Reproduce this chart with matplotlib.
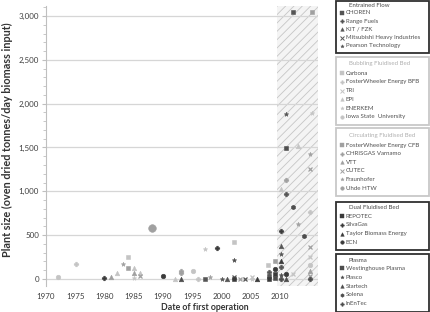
import matplotlib
matplotlib.use("Agg")
import matplotlib.pyplot as plt
from matplotlib.patches import Rectangle
from matplotlib.lines import Line2D
from matplotlib.ticker import MultipleLocator, FuncFormatter

plt.rcParams['font.family'] = ['Lato', 'DejaVu Sans']
plt.rcParams['hatch.linewidth'] = 0.6

# ---------------- data ----------------
ef_names = ['CHOREN', 'Range Fuels', 'KIT / FZK', 'Mitsubishi Heavy Industries', 'Pearson Technology']
ef_series = [0, 0, 0, 1, 1, 1, 2, 2, 3, 3, 4, 4, 4]
ef_year = [1997.1, 2008.1, 2012.2, 2008.1, 2010.2, 2011.1, 2001.0, 2010.1, 2002.1, 2004.0, 2000.1, 2010.2, 2011.1]
ef_size = [0, 38, 3040, 76, 140, 970, 0, 380, 26, 0, 0, 282, 1880]

bfb_names = ['Carbona', 'FosterWheeler Energy BFB', 'TRI', 'EPI', 'ENERKEM', 'Iowa State  University']
bfb_series = [0, 0, 0, 1, 1, 1, 2, 2, 2, 3, 3, 3, 3, 3, 3, 4, 4, 4, 4, 5, 5, 5]
bfb_year = [1984.1, 2002.1, 2008.0, 1975.1, 1996.0, 2015.2, 2005.2, 2012.3, 2015.2,
            1982.1, 1985.1, 1986.0, 1992.0, 2010.2, 2013.1,
            1985.1, 1997.1, 2005.2, 2015.4, 1972.1, 1995.1, 2015.2]
bfb_size = [255, 419, 160, 175, 3, 768, 26, 53, 255,
            72, 129, 72, 3, 1027, 1518,
            15, 339, 0, 1898, 23, 91, 160]

cfb_names = ['FosterWheeler Energy CFB', 'CHRISGAS Varnamo', 'VTT', 'CUTEC', 'Fraunhofer', 'Uhde HTW']
cfb_series = [0, 0, 0, 1, 1, 1, 2, 2, 2, 3, 3, 3, 3, 4, 4, 4, 4, 5]
cfb_year = [1984.1, 2009.2, 2015.4, 1993.1, 1993.1, 2011.1, 1981.1, 1985.1, 2015.2,
            1986.0, 2003.2, 2015.2, 2015.2, 1983.1, 1998.0, 2013.1, 2015.2,
            1988.2]
cfb_size = [129, 205, 3040, 91, 65, 1130, 23, 72, 91,
            34, 0, 370, 38, 167, 19, 628, 1427,
            578]
cfb_extra_year = [2015.2]
cfb_extra_size = [1252]

dfb_names = ['REPOTEC', 'SilvaGas', 'Taylor Biomass Energy', 'ECN']
dfb_series = [0, 0, 0, 1, 1, 1, 2, 2, 3, 3, 3]
dfb_year = [2002.1, 2009.2, 2008.1, 1980.0, 1999.2, 2010.2, 2006.0, 2010.1, 1990.0, 2011.1, 2009.2]
dfb_size = [0, 53, 0, 15, 350, 552, 0, 205, 34, 53, 114]

pl_names = ['Westinghouse Plasma', 'Plasco', 'Startech', 'Solena', 'InEnTec']
pl_series = [0, 0, 1, 1, 2, 2, 3, 3, 4, 4]
pl_year = [2011.1, 2009.2, 2002.1, 2010.2, 1993.0, 2011.1, 2012.2, 2014.1, 2010.2, 2015.2]
pl_size = [1499, 10, 217, 45, 0, 5, 818, 490, 5, 0]

y_ticks = [0, 500, 1000, 1500, 2000, 2500, 3000]
x_ticks = [1970, 1975, 1980, 1985, 1990, 1995, 2000, 2005, 2010]
future_start, future_end = 2009.5, 2016.5

# fold the extra CFB point into the CUTEC series
cfb_year = cfb_year + cfb_extra_year
cfb_size = cfb_size + cfb_extra_size
cfb_series = cfb_series + [3]

# ---------------- style ----------------
groups = [
    dict(title='Entrained Flow', names=ef_names, series=ef_series, year=ef_year, size=ef_size,
         markers=['s', 'P', '^', 'x', '*'], color='#555555', title_color='#4a4a4a',
         box_color='#303030', box=(1, 53), t_off=4.5, e_off=11.7, step=8.3),
    dict(title='Bubbling Fluidised Bed', names=bfb_names, series=bfb_series, year=bfb_year, size=bfb_size,
         markers=['s', 'P', 'x', '^', '*', 'o'], color='#c4c4c4', title_color='#b0b0b0',
         box_color='#c8c8c8', box=(57, 125), t_off=7, e_off=16.3, step=8.7),
    dict(title='Circulating Fluidised Bed', names=cfb_names, series=cfb_series, year=cfb_year, size=cfb_size,
         markers=['s', 'P', '^', 'x', '*', 'o'], color='#a0a0a0', title_color='#b0b0b0',
         box_color='#c8c8c8', box=(127.5, 196), t_off=8, e_off=17.5, step=8.6),
    dict(title='Dual Fluidised Bed', names=dfb_names, series=dfb_series, year=dfb_year, size=dfb_size,
         markers=['s', 'P', '^', 'o'], color='#3a3a3a', title_color='#4a4a4a',
         box_color='#303030', box=(202, 250), t_off=5.5, e_off=14, step=8.8),
    dict(title='Plasma', names=pl_names, series=pl_series, year=pl_year, size=pl_size,
         markers=['s', '*', '^', 'h', 'P'], color='#4d4d4d', title_color='#4a4a4a',
         box_color='#303030', box=(254, 311.5), t_off=6, e_off=14.3, step=8.9),
]

W, H = 431, 312
fig = plt.figure(figsize=(W / 100, H / 100), dpi=100)
ax = fig.add_axes([46 / W, 1 - 286 / H, (318 - 46) / W, (286 - 6) / H])

ax.set_xlim(1970, future_end)
ax.set_ylim(-80, 3114)

ax.axvspan(future_start, future_end, facecolor='#f4f4f4', edgecolor='#c6c6c6',
           hatch='////', linewidth=0, zorder=0)

for yt in y_ticks:
    ax.axhline(yt, color='#d6d6d6', lw=0.9, zorder=0.5)

for g in groups:
    for si, name in enumerate(g['names']):
        xs = [x for x, s in zip(g['year'], g['series']) if s == si]
        ys = [y for y, s in zip(g['size'], g['series']) if s == si]
        m = g['markers'][si]
        big = name == 'Uhde HTW'
        ax.plot(xs, ys, ls='none', marker=m, ms=5.5 if big else 3.3, color=g['color'],
                mec=g['color'], mew=0.9 if m == 'x' else 0.4, zorder=3)

ax.set_yticks(y_ticks)
ax.yaxis.set_minor_locator(MultipleLocator(100))
ax.yaxis.set_major_formatter(FuncFormatter(lambda v, p: f'{int(v):,}'))
ax.set_xticks(x_ticks)
ax.tick_params(axis='y', which='major', length=3, color='#bfbfbf', labelsize=5.8,
               labelcolor='#404040', pad=2)
ax.tick_params(axis='y', which='minor', length=2, color='#bfbfbf')
ax.tick_params(axis='x', length=0, labelsize=5.8, labelcolor='#404040', pad=5)
for s in ['top', 'right', 'bottom']:
    ax.spines[s].set_visible(False)
ax.spines['left'].set_color('#bfbfbf')
ax.spines['left'].set_linewidth(0.8)
ax.set_facecolor('none')

fig.text(7 / W, 1 - 140 / H, 'Plant size (oven dried tonnes/day biomass input)', rotation=90,
         ha='center', va='center', fontsize=7.8, fontweight='bold', color='#333333')
fig.text(205 / W, 1 - 307 / H, 'Date of first operation', ha='center', va='center',
         fontsize=6.3, fontweight='bold', color='#333333')

# ---------------- legend boxes ----------------
bx0, bx1 = 336, 429
for g in groups:
    top, bot = g['box']
    fig.add_artist(Rectangle((bx0 / W, 1 - bot / H), (bx1 - bx0) / W, (bot - top) / H,
                             transform=fig.transFigure, fill=False, ec=g['box_color'], lw=1.3))
    fig.text(349 / W, 1 - (top + g['t_off']) / H, g['title'], fontsize=4.4, color=g['title_color'],
             ha='left', va='center')
    for i, name in enumerate(g['names']):
        yy = 1 - (top + g['e_off'] + i * g['step']) / H
        m = g['markers'][i]
        fig.add_artist(Line2D([342 / W], [yy], transform=fig.transFigure, marker=m, ms=2.6,
                              color=g['color'], mew=0.7 if m == 'x' else 0.3, ls='none'))
        fig.text(346 / W, yy, name, fontsize=4.4, color='#505050', ha='left', va='center')

fig.savefig('out.png', dpi=100)
